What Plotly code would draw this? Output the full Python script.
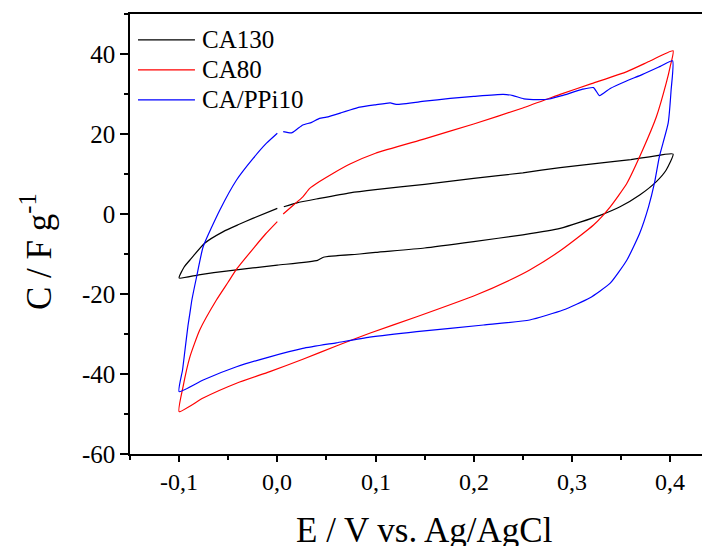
import plotly.graph_objects as go

# ---- data ----
ca130_x = [0.0066, 0.02, 0.043, 0.074, 0.1, 0.15, 0.2, 0.25, 0.288, 0.328, 0.36, 0.379, 0.403,
           0.396, 0.386, 0.369, 0.349, 0.328, 0.288, 0.25, 0.2, 0.15, 0.1, 0.084, 0.047,
           0.041, 0.0, -0.05, -0.08, -0.1,
           -0.095, -0.089, -0.074, -0.055, -0.04, -0.025, 0.0]
ca130_y = [1.8, 2.8, 3.9, 5.3, 6.1, 7.4, 8.9, 10.3, 11.6, 12.7, 13.6, 14.3, 15.0,
           11.0, 8.1, 4.75, 1.8, -0.4, -3.6, -5.2, -6.9, -8.5, -9.6, -10.0, -10.8,
           -11.6, -12.8, -14.2, -15.2, -16.0,
           -13.3, -11.5, -7.3, -4.4, -2.7, -1.1, 1.4]

ca80_x = [0.006, 0.0165, 0.026, 0.033, 0.043, 0.057, 0.074, 0.1, 0.15, 0.2, 0.25, 0.288, 0.32, 0.356, 0.38, 0.403,
          0.4, 0.396, 0.386, 0.372, 0.356, 0.339, 0.322, 0.288, 0.257, 0.237, 0.203, 0.142, 0.094, 0.06,
          0.026, -0.0076, -0.0415, -0.0755, -0.1,
          -0.096, -0.089, -0.079, -0.062, -0.05, -0.0415, -0.023, -0.012, 0.0]
ca80_y = [0.0, 2.25, 4.3, 6.4, 8.1, 10.2, 12.5, 15.2, 18.8, 22.5, 26.5, 29.9, 32.6, 35.6, 38.3, 40.8,
          36.8, 32.7, 24.3, 16.0, 7.7, 1.8, -2.75, -9.2, -14.0, -16.5, -20.2, -25.7, -29.8, -33.0,
          -36.3, -39.4, -42.3, -46.0, -49.4,
          -43.2, -35.7, -29.0, -21.5, -17.0, -13.8, -8.2, -5.0, -1.9]

capp_x = [0.006, 0.0145, 0.02, 0.026, 0.035, 0.043, 0.05, 0.065, 0.074, 0.084, 0.1, 0.115, 0.121,
          0.15, 0.176, 0.2, 0.23, 0.24, 0.251, 0.265, 0.277, 0.29, 0.311, 0.322, 0.328, 0.339, 0.355,
          0.372, 0.39, 0.4025,
          0.401, 0.398, 0.389, 0.384, 0.378, 0.369, 0.356, 0.339, 0.318, 0.291,
          0.257, 0.21, 0.142, 0.094, 0.06, 0.026, -0.0076, -0.0415, -0.0755, -0.1,
          -0.0965, -0.094, -0.091, -0.089, -0.087, -0.082, -0.0755, -0.0585, -0.0415, -0.0246, -0.011, 0.0]
capp_y = [20.6, 20.3, 21.2, 22.25, 22.9, 23.9, 24.2, 25.3, 26.0, 26.7, 27.3, 27.8, 27.4,
          28.2, 28.9, 29.4, 29.9, 29.6, 28.8, 28.6, 28.75, 29.6, 31.2, 31.6, 29.6, 31.4, 33.2,
          34.9, 36.9, 38.3,
          31.0, 22.7, 14.3, 7.7, 1.8, -4.8, -11.5, -17.3, -21.0, -24.0,
          -26.5, -27.75, -29.4, -30.8, -32.2, -33.6, -35.7, -38.2, -41.5, -44.4,
          -39.0, -34.0, -28.0, -24.8, -21.5, -15.5, -8.2, 1.0, 8.5, 13.9, 17.7, 20.2]

x_tickvals = [-0.1, 0.0, 0.1, 0.2, 0.3, 0.4]
x_ticktext = ["-0,1", "0,0", "0,1", "0,2", "0,3", "0,4"]
y_tickvals = [-60, -40, -20, 0, 20, 40]
y_ticktext = ["-60", "-40", "-20", "0", "20", "40"]

series_names = ["CA130", "CA80", "CA/PPi10"]
series_x = [ca130_x, ca80_x, capp_x]
series_y = [ca130_y, ca80_y, capp_y]
series_colors = ["black", "#ff0000", "#0000ff"]

FONT = "Liberation Serif"

fig = go.Figure()
for name, xs, ys, col in zip(series_names, series_x, series_y, series_colors):
    fig.add_trace(go.Scatter(x=xs, y=ys, mode="lines", name=name, showlegend=False,
                             line=dict(color=col, width=1.2, shape="spline", smoothing=0.5)))

# manual legend (in-plot, paper coordinates)
leg_y = [0.941, 0.873, 0.805]
for name, col, ly in zip(series_names, series_colors, leg_y):
    fig.add_shape(type="line", xref="paper", yref="paper", x0=0.0138, x1=0.112, y0=ly, y1=ly,
                  line=dict(color=col, width=1.2))
    fig.add_annotation(xref="paper", yref="paper", x=0.121, y=ly + 0.001, xanchor="left", yanchor="middle",
                       text=name, showarrow=False, font=dict(family=FONT, size=25, color="black"))

# x tick labels placed at the axis tick values
for v, t in zip(x_tickvals, x_ticktext):
    fig.add_annotation(xref="x", yref="paper", x=v, y=-0.0625, xanchor="center", yanchor="middle",
                       text=t, showarrow=False, font=dict(family=FONT, size=24, color="black"))

# axis titles
fig.add_annotation(xref="paper", yref="paper", x=0.507, y=-0.173, xanchor="center", yanchor="middle",
                   text="E / V vs. Ag/AgCl", showarrow=False, font=dict(family=FONT, size=35, color="black"))
fig.add_annotation(xref="paper", yref="paper", x=-0.162, y=0.459, xanchor="center", yanchor="middle",
                   textangle=-90, text="C / F g<sup>-1</sup>", showarrow=False,
                   font=dict(family=FONT, size=35, color="black"))

fig.update_layout(
    width=702, height=538,
    margin=dict(l=122, r=0, t=6, b=92),
    paper_bgcolor="white", plot_bgcolor="white",
    font=dict(family=FONT, color="black", size=24),
    showlegend=False,
)
fig.update_xaxes(
    range=[-0.15, 0.4406], showgrid=False, zeroline=False, automargin=False,
    showline=True, linecolor="black", linewidth=1.5, mirror=True,
    tickmode="array", tickvals=x_tickvals, ticktext=x_ticktext, showticklabels=False,
    ticks="outside", ticklen=6, tickwidth=1.5, tickcolor="black",
    minor=dict(ticks="outside", dtick=0.05, tick0=0, ticklen=4, tickwidth=1.5, tickcolor="black"),
)
fig.update_yaxes(
    range=[-60, 50], showgrid=False, zeroline=False, automargin=False,
    showline=True, linecolor="black", linewidth=1.5, mirror=False,
    tickmode="array", tickvals=y_tickvals, ticktext=y_ticktext,
    ticks="outside", ticklen=8, tickwidth=1.5, tickcolor="black",
    minor=dict(ticks="outside", dtick=10, tick0=0, ticklen=4, tickwidth=1.5, tickcolor="black"),
    tickfont=dict(family=FONT, size=25, color="black"),
)

fig.write_html("out.html")
